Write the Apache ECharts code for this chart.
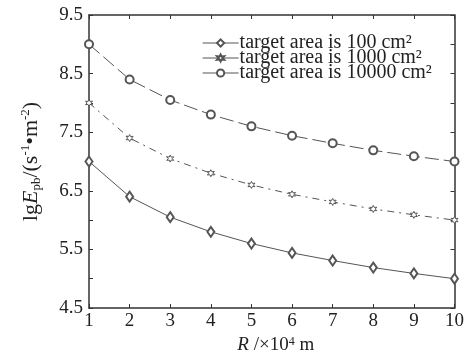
<!DOCTYPE html>
<html><head><meta charset="utf-8">
<script src="https://cdn.jsdelivr.net/npm/echarts@6/dist/echarts.min.js"></script>
<style>html,body{margin:0;padding:0;background:#fff}#c{width:467px;height:363px}</style>
</head><body><div id="c"></div>
<script>
const R = [1,2,3,4,5,6,7,8,9,10];
const area100 = [7.0, 6.4, 6.05, 5.8, 5.6, 5.44, 5.31, 5.19, 5.09, 5.0];
const area1000 = [8.0, 7.4, 7.05, 6.8, 6.6, 6.44, 6.31, 6.19, 6.09, 6.0];
const area10000 = [9.0, 8.4, 8.05, 7.8, 7.6, 7.44, 7.31, 7.19, 7.09, 7.0];
const names = ['target area is 100 cm²','target area is 1000 cm²','target area is 10000 cm²'];
const yLabels = [4.5, 5.5, 6.5, 7.5, 8.5, 9.5];

const FONT = 'Liberation Serif';
const C = '#333';
const LC = '#555';
const star = 'path://M0,-10 L2.5,-4.3 L8.7,-5 L5,0 L8.7,5 L2.5,4.3 L0,10 L-2.5,4.3 L-8.7,5 L-5,0 L-8.7,-5 L-2.5,-4.3 Z';

function pair(arr){ return R.map((r,i)=>[r, arr[i]]); }

const chart = echarts.init(document.getElementById('c'));
const baseX = {type:'value', min:1, max:10, interval:1,
  axisLine:{show:true, onZero:false, lineStyle:{color:C, width:1.5}},
  axisTick:{show:true, inside:true, length:4, lineStyle:{color:C}},
  splitLine:{show:false}};
const baseY = {type:'value', min:4.5, max:9.5, interval:0.5,
  axisLine:{show:true, onZero:false, lineStyle:{color:C, width:1.5}},
  axisTick:{show:true, inside:true, length:4, lineStyle:{color:C}},
  splitLine:{show:false}};

chart.setOption({
  animation:false,
  backgroundColor:'#fff',
  textStyle:{fontFamily:FONT},
  grid:{left:89, right:10, top:15, bottom:55},
  legend:{
    orient:'vertical', left:202, top:33, padding:0,
    itemWidth:36, itemHeight:9, itemGap:-5,
    lineStyle:{type:'solid', width:1.2},
    textStyle:{fontFamily:FONT, fontSize:20, color:'#222', padding:[0,0,0,-4]},
    data:names
  },
  xAxis:[
    Object.assign({}, baseX, {position:'bottom',
      name:'{i|R} /×10{sup|4} m', nameLocation:'middle', nameGap:26,
      nameTextStyle:{fontFamily:FONT, fontSize:19, color:'#222', padding:[0,0,0,8],
        rich:{i:{fontStyle:'italic', fontFamily:FONT, fontSize:19, color:'#222'},
              sup:{fontSize:12, verticalAlign:'top', lineHeight:12, fontFamily:FONT, color:'#222'}}},
      axisLabel:{fontFamily:FONT, fontSize:19, color:'#222', margin:4}}),
    Object.assign({}, baseX, {position:'top', axisLabel:{show:false}})
  ],
  yAxis:[
    Object.assign({}, baseY, {position:'left',
      name:'lg{i|E}{sub|pb}/(s{sup|-1}•m{sup|-2})', nameLocation:'middle', nameGap:46, nameRotate:90,
      nameTextStyle:{fontFamily:FONT, fontSize:22, color:'#222', lineHeight:24,
        rich:{i:{fontStyle:'italic', fontFamily:FONT, fontSize:22, color:'#222', lineHeight:24},
              sub:{fontSize:13, verticalAlign:'bottom', lineHeight:13, fontFamily:FONT, color:'#222'},
              sup:{fontSize:13, verticalAlign:'top', lineHeight:13, fontFamily:FONT, color:'#222'}}},
      axisLabel:{fontFamily:FONT, fontSize:19, color:'#222', margin:6,
        formatter:v=>yLabels.some(l=>Math.abs(l-v)<1e-6)?v.toFixed(1):''}}),
    Object.assign({}, baseY, {position:'right', axisLabel:{show:false}})
  ],
  series:[
    {name:names[0], type:'line', data:pair(area100), symbol:'emptyDiamond', symbolSize:[7,10],
     lineStyle:{color:LC, width:1, type:'solid'}, itemStyle:{color:LC, borderWidth:0.9}},
    {name:names[1], type:'line', data:pair(area1000), symbol:star, symbolSize:7,
     lineStyle:{color:LC, width:1, type:[7,5,2,5]}, itemStyle:{color:'#fff', borderColor:LC, borderWidth:1}},
    {name:names[2], type:'line', data:pair(area10000), symbol:'emptyCircle', symbolSize:8,
     lineStyle:{color:LC, width:1, type:[14,5]}, itemStyle:{color:LC, borderWidth:0.9}}
  ]
});
</script></body></html>
